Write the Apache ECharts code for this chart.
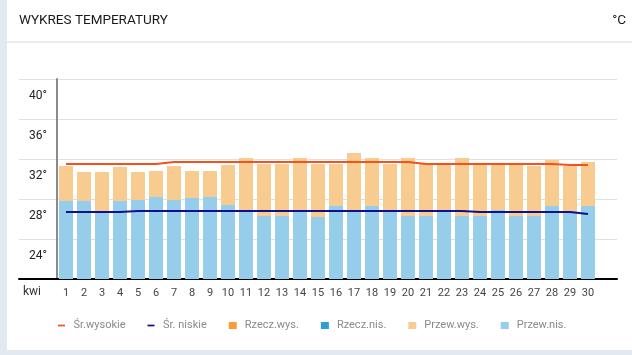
<!DOCTYPE html>
<html>
<head>
<meta charset="utf-8">
<script src="https://cdn.jsdelivr.net/npm/echarts@6/dist/echarts.min.js"></script>
<style>
  html, body { margin: 0; padding: 0; background: #e3e9f1; }
  #wrap { position: relative; width: 632px; height: 355px; }
  #card { position: absolute; left: 7px; top: 0; width: 625px; height: 350px; background: #ffffff; }
  #chart { position: absolute; left: 0; top: 0; width: 632px; height: 355px; }
</style>
</head>
<body>
<div id="wrap"><div id="card"></div><div id="chart"></div></div>
<script>
// ---- data ----
const days = ['1','2','3','4','5','6','7','8','9','10','11','12','13','14','15','16','17','18','19','20','21','22','23','24','25','26','27','28','29','30'];
const avgHigh = [31.5,31.5,31.5,31.5,31.5,31.5,31.7,31.7,31.7,31.7,31.7,31.7,31.7,31.7,31.7,31.7,31.7,31.7,31.7,31.7,31.5,31.5,31.5,31.5,31.5,31.5,31.5,31.5,31.4,31.4];
const avgLow = [26.7,26.7,26.7,26.7,26.8,26.8,26.8,26.8,26.8,26.8,26.8,26.8,26.8,26.8,26.8,26.8,26.8,26.8,26.8,26.8,26.8,26.8,26.8,26.7,26.7,26.7,26.7,26.7,26.7,26.5];
const actualHigh = [];
const actualLow = [];
const forecastHigh = [31.3,30.7,30.7,31.2,30.7,30.8,31.3,30.8,30.8,31.4,32.1,31.5,31.5,32.1,31.5,31.5,32.6,32.1,31.5,32.1,31.5,31.5,32.1,31.5,31.5,31.5,31.3,31.9,31.3,31.7];
const forecastLow = [27.8,27.8,26.8,27.8,27.9,28.2,27.9,28.1,28.2,27.4,26.8,26.3,26.3,26.8,26.2,27.3,26.8,27.3,26.8,26.3,26.3,26.8,26.3,26.3,26.9,26.3,26.3,27.3,26.8,27.3];
const yTicks = [20,24,28,32,36,40];
const seriesNames = ['Śr.wysokie','Śr. niskie','Rzecz.wys.','Rzecz.nis.','Przew.wys.','Przew.nis.'];

const forecastSpan = forecastHigh.map((h, i) => +(h - forecastLow[i]).toFixed(2));

const FONT = 'Roboto';
const dashIcon = 'path://M0,0M0,3h8v2h-8zM8,8';
const chart = echarts.init(document.getElementById('chart'), null, { renderer: 'canvas' });
chart.setOption({
  animation: false,
  textStyle: { fontFamily: FONT },
  title: [
    { text: 'WYKRES TEMPERATURY', left: 19, top: 14, padding: 0,
      textStyle: { fontSize: 13.5, fontWeight: 'normal', color: '#1a1a1a', fontFamily: FONT } },
    { text: '°C', right: 6, top: 14, padding: 0,
      textStyle: { fontSize: 13.5, fontWeight: 'normal', color: '#1a1a1a', fontFamily: FONT } }
  ],
  graphic: [
    { type: 'line', shape: { x1: 7, y1: 42, x2: 632, y2: 42 }, style: { stroke: '#ececec', lineWidth: 2 } },
    { type: 'text', left: 23, top: 286, style: { text: 'kwi', fontSize: 12, fill: '#333', fontFamily: FONT } }
  ],
  legend: {
    left: 53, top: 315,
    itemWidth: 8, itemHeight: 7, itemGap: 22,
    textStyle: { color: '#8a8a8a', fontSize: 11, fontFamily: FONT, padding: [0, 0, 0, 3] },
    data: [
      { name: seriesNames[0], icon: dashIcon },
      { name: seriesNames[1], icon: dashIcon },
      { name: seriesNames[2], icon: 'rect' },
      { name: seriesNames[3], icon: 'rect' },
      { name: seriesNames[4], icon: 'rect' },
      { name: seriesNames[5], icon: 'rect' }
    ]
  },
  grid: [
    { left: 19, right: 15, top: 79, height: 200 },
    { left: 57, width: 540, top: 79, height: 200 }
  ],
  xAxis: [
    { gridIndex: 0, type: 'category', data: [''], axisLine: { show: true, lineStyle: { color: '#000', width: 2 } },
      axisTick: { show: false }, axisLabel: { show: false }, splitLine: { show: false } },
    { gridIndex: 1, type: 'category', data: days, boundaryGap: true,
      axisLine: { show: false }, axisTick: { show: false },
      axisLabel: { color: '#444', fontSize: 11, margin: 9, interval: 0, fontFamily: FONT } }
  ],
  yAxis: [
    { gridIndex: 0, type: 'value', min: yTicks[0], max: yTicks[yTicks.length - 1], interval: 4,
      axisLine: { show: false }, axisTick: { show: false }, axisLabel: { show: false },
      splitLine: { show: true, lineStyle: { color: '#e0e0e0', width: 1 } } },
    { gridIndex: 1, type: 'value', min: yTicks[0], max: yTicks[yTicks.length - 1], interval: 4,
      axisLine: { show: true, lineStyle: { color: '#8a8a8a', width: 2 } },
      axisTick: { show: false }, splitLine: { show: false },
      axisLabel: { color: '#222', fontSize: 12, margin: 10, fontFamily: FONT,
        verticalAlign: 'top', lineHeight: 33,
        formatter: v => (v === yTicks[0] ? '' : v + '°') } }
  ],
  series: [
    { name: seriesNames[5], type: 'bar', xAxisIndex: 1, yAxisIndex: 1, stack: 'p', barWidth: 14,
      itemStyle: { color: '#96cdea' }, data: forecastLow },
    { name: seriesNames[4], type: 'bar', xAxisIndex: 1, yAxisIndex: 1, stack: 'p', barWidth: 14,
      itemStyle: { color: '#f8cb90' }, data: forecastSpan },
    { name: seriesNames[2], type: 'bar', xAxisIndex: 1, yAxisIndex: 1, stack: 'p', barWidth: 14,
      itemStyle: { color: '#ff9a3a' }, data: actualHigh },
    { name: seriesNames[3], type: 'bar', xAxisIndex: 1, yAxisIndex: 1, stack: 'p', barWidth: 14,
      itemStyle: { color: '#2b9fd8' }, data: actualLow },
    { name: seriesNames[0], type: 'line', xAxisIndex: 1, yAxisIndex: 1, symbol: 'none', z: 5,
      lineStyle: { color: '#f4511e', width: 2 }, itemStyle: { color: '#f4511e' }, data: avgHigh },
    { name: seriesNames[1], type: 'line', xAxisIndex: 1, yAxisIndex: 1, symbol: 'none', z: 5,
      lineStyle: { color: '#10108c', width: 2 }, itemStyle: { color: '#10108c' }, data: avgLow }
  ]
});
</script>
</body>
</html>
